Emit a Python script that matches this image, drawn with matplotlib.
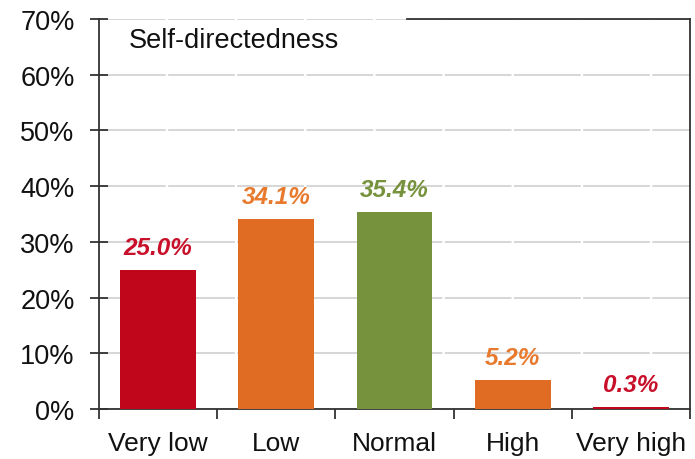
import matplotlib.pyplot as plt
import numpy as np
from matplotlib.ticker import FuncFormatter

# data
categories = ['Very low', 'Low', 'Normal', 'High', 'Very high']
values = [25.0, 34.1, 35.4, 5.2, 0.3]
bar_colors = ['#C0061A', '#E06B22', '#76923C', '#E06B22', '#C0061A']
label_colors = ['#C8102A', '#E87A2E', '#76923C', '#E87A2E', '#C8102A']
yticks = [0, 10, 20, 30, 40, 50, 60, 70]

plt.rcParams['font.family'] = ['Liberation Sans', 'DejaVu Sans']

fig = plt.figure(figsize=(6.95, 4.6), dpi=100)
ax = fig.add_axes([0.1424, 0.1087, 0.8504, 0.8478])

x = np.arange(len(categories))
ax.bar(x, values, width=0.64, color=bar_colors, zorder=3)

for xi, v, c in zip(x, values, label_colors):
    ax.annotate('%.1f%%' % v, (xi, v), xytext=(0, 8), textcoords='offset points',
                ha='center', va='bottom', fontsize=17.5, fontweight='bold',
                fontstyle='italic', color=c)

ax.set_xlim(-0.5, len(categories) - 0.5)
ax.set_ylim(0, 70)
ax.set_yticks(yticks)
ax.yaxis.set_major_formatter(FuncFormatter(lambda v, p: '%d%%' % v))
ax.set_xticks(x)
ax.set_xticklabels(categories)
ax.set_xticks(np.arange(len(categories) + 1) - 0.5, minor=True)

ax.tick_params(axis='y', direction='inout', length=13, width=1.3, color='#333333',
               labelsize=19.5, pad=11, labelcolor='#111111')
ax.tick_params(axis='x', which='major', length=0, labelsize=19, pad=16,
               labelcolor='#111111')
ax.tick_params(axis='x', which='minor', direction='out', length=7, width=1.3,
               color='#333333')

ax.grid(axis='y', color='#CFCFCF', linestyle=(0, (40, 1.5)), linewidth=1.2, zorder=0)
ax.set_axisbelow(True)

for side in ['left', 'bottom', 'right']:
    ax.spines[side].set_color('#333333')
    ax.spines[side].set_linewidth(1.3)
ax.spines['top'].set_visible(False)
# partial top border (left part hidden behind the title)
ax.plot([0.521, 1.0], [1.0, 1.0], transform=ax.transAxes, color='#333333',
        linewidth=1.3, clip_on=False, zorder=5)

ax.text(0.05, 0.945, 'Self-directedness', transform=ax.transAxes, fontsize=19.5,
        color='#111111', ha='left', va='center')

fig.savefig('out.png', dpi=100)
